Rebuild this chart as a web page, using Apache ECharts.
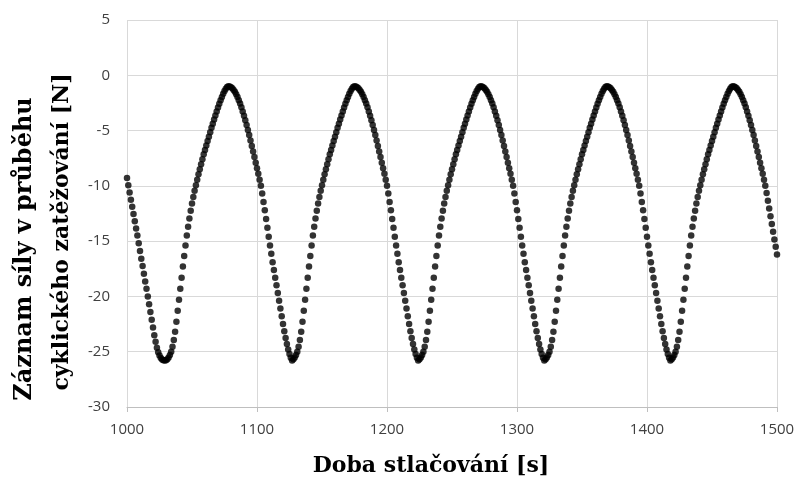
<!DOCTYPE html>
<html>
<head>
<meta charset="utf-8">
<script src="https://cdn.jsdelivr.net/npm/echarts@6/dist/echarts.min.js"></script>
<style>
html, body {margin: 0; padding: 0; background: #fff;}
#main {width: 801px; height: 481px;}
</style>
</head>
<body>
<div id="main"></div>
<script>
// one reading per second, starting at 1000 s
var timeStart = 1000;
var timeStep  = 1;

// force readings [N], segment by segment (falling / rising flanks)
var fall0 = [-9.3, -9.95, -10.6, -11.25, -11.9, -12.55, -13.2, -13.85, -14.5, -15.2, -15.9, -16.6, -17.25, -17.95, -18.65, -19.3, -20.0, -20.7, -21.4, -22.1, -22.8, -23.5, -24.1, -24.65, -25.05, -25.35, -25.57, -25.7, -25.78];
var rise1 = [-25.8, -25.77, -25.68, -25.52, -25.3, -25.0, -24.55, -23.95, -23.2, -22.3, -21.3, -20.3, -19.3, -18.3, -17.3, -16.35, -15.4, -14.5, -13.7, -12.95, -12.25, -11.6, -11.0, -10.45, -9.95, -9.45, -8.95, -8.5, -8.05, -7.6, -7.15, -6.75, -6.35, -5.95, -5.55, -5.15, -4.75, -4.38, -4.0, -3.63, -3.27, -2.92, -2.58, -2.26, -1.96, -1.68, -1.43, -1.22, -1.06];
var fall1 = [-1.0, -1.02, -1.08, -1.18, -1.32, -1.5, -1.72, -1.97, -2.25, -2.56, -2.9, -3.27, -3.66, -4.07, -4.5, -4.95, -5.4, -5.9, -6.4, -6.9, -7.4, -7.9, -8.4, -8.9, -9.45, -10.0, -10.7, -11.45, -12.2, -13.0, -13.8, -14.6, -15.4, -16.15, -16.9, -17.6, -18.3, -19.0, -19.7, -20.4, -21.1, -21.8, -22.5, -23.15, -23.75, -24.3, -24.8, -25.2, -25.55];
var rise2 = [-25.8, -25.68, -25.52, -25.3, -25.0, -24.55, -23.95, -23.2, -22.3, -21.3, -20.3, -19.3, -18.3, -17.3, -16.35, -15.4, -14.5, -13.7, -12.95, -12.25, -11.6, -11.0, -10.45, -9.95, -9.45, -8.95, -8.5, -8.05, -7.6, -7.15, -6.75, -6.35, -5.95, -5.55, -5.15, -4.75, -4.38, -4.0, -3.63, -3.27, -2.92, -2.58, -2.26, -1.96, -1.68, -1.43, -1.22, -1.06];
var fall2 = [-1.0, -1.02, -1.08, -1.18, -1.32, -1.5, -1.72, -1.97, -2.25, -2.56, -2.9, -3.27, -3.66, -4.07, -4.5, -4.95, -5.4, -5.9, -6.4, -6.9, -7.4, -7.9, -8.4, -8.9, -9.45, -10.0, -10.7, -11.45, -12.2, -13.0, -13.8, -14.6, -15.4, -16.15, -16.9, -17.6, -18.3, -19.0, -19.7, -20.4, -21.1, -21.8, -22.5, -23.15, -23.75, -24.3, -24.8, -25.2, -25.55];
var rise3 = [-25.8, -25.68, -25.52, -25.3, -25.0, -24.55, -23.95, -23.2, -22.3, -21.3, -20.3, -19.3, -18.3, -17.3, -16.35, -15.4, -14.5, -13.7, -12.95, -12.25, -11.6, -11.0, -10.45, -9.95, -9.45, -8.95, -8.5, -8.05, -7.6, -7.15, -6.75, -6.35, -5.95, -5.55, -5.15, -4.75, -4.38, -4.0, -3.63, -3.27, -2.92, -2.58, -2.26, -1.96, -1.68, -1.43, -1.22, -1.06];
var fall3 = [-1.0, -1.02, -1.08, -1.18, -1.32, -1.5, -1.72, -1.97, -2.25, -2.56, -2.9, -3.27, -3.66, -4.07, -4.5, -4.95, -5.4, -5.9, -6.4, -6.9, -7.4, -7.9, -8.4, -8.9, -9.45, -10.0, -10.7, -11.45, -12.2, -13.0, -13.8, -14.6, -15.4, -16.15, -16.9, -17.6, -18.3, -19.0, -19.7, -20.4, -21.1, -21.8, -22.5, -23.15, -23.75, -24.3, -24.8, -25.2, -25.55];
var rise4 = [-25.8, -25.68, -25.52, -25.3, -25.0, -24.55, -23.95, -23.2, -22.3, -21.3, -20.3, -19.3, -18.3, -17.3, -16.35, -15.4, -14.5, -13.7, -12.95, -12.25, -11.6, -11.0, -10.45, -9.95, -9.45, -8.95, -8.5, -8.05, -7.6, -7.15, -6.75, -6.35, -5.95, -5.55, -5.15, -4.75, -4.38, -4.0, -3.63, -3.27, -2.92, -2.58, -2.26, -1.96, -1.68, -1.43, -1.22, -1.06];
var fall4 = [-1.0, -1.02, -1.08, -1.18, -1.32, -1.5, -1.72, -1.97, -2.25, -2.56, -2.9, -3.27, -3.66, -4.07, -4.5, -4.95, -5.4, -5.9, -6.4, -6.9, -7.4, -7.9, -8.4, -8.9, -9.45, -10.0, -10.7, -11.45, -12.2, -13.0, -13.8, -14.6, -15.4, -16.15, -16.9, -17.6, -18.3, -19.0, -19.7, -20.4, -21.1, -21.8, -22.5, -23.15, -23.75, -24.3, -24.8, -25.2, -25.55];
var rise5 = [-25.8, -25.68, -25.52, -25.3, -25.0, -24.55, -23.95, -23.2, -22.3, -21.3, -20.3, -19.3, -18.3, -17.3, -16.35, -15.4, -14.5, -13.7, -12.95, -12.25, -11.6, -11.0, -10.45, -9.95, -9.45, -8.95, -8.5, -8.05, -7.6, -7.15, -6.75, -6.35, -5.95, -5.55, -5.15, -4.75, -4.38, -4.0, -3.63, -3.27, -2.92, -2.58, -2.26, -1.96, -1.68, -1.43, -1.22, -1.06];
var fall5 = [-1.0, -1.02, -1.08, -1.18, -1.32, -1.5, -1.72, -1.97, -2.25, -2.56, -2.9, -3.27, -3.66, -4.07, -4.5, -4.95, -5.4, -5.9, -6.4, -6.9, -7.4, -7.9, -8.4, -8.9, -9.45, -10.0, -10.65, -11.35, -12.05, -12.75, -13.45, -14.15, -14.85, -15.5, -16.2];

var xTitle  = 'Doba stlačování [s]';
var yTitle1 = 'Záznam síly v průběhu';
var yTitle2 = 'cyklického zatěžování [N]';

function buildPoints(segments)
{
    var points = [];
    var values = [].concat.apply([], segments);
    for(var i = 0; i < values.length; i++) points.push([timeStart + i * timeStep, values[i]]);
    return points;
}

function drawForceChart(id)
{
    var labelStyle = {
        color: '#404040',
        fontFamily: 'Open Sans',
        fontSize: 15,
        formatter: function(value) { return String(value); }
    };
    var gridLine = {
        show: true,
        lineStyle: {color: '#d9d9d9', width: 1}
    };
    var titleFont = 'bold 22px "DejaVu Serif"';

    var chart  = echarts.init(document.getElementById(id));
    var option = {
        animation: false,
        grid: {left: 127, right: 24, top: 20, bottom: 74},
        xAxis: {
            type: 'value',
            min: 1000,
            max: 1500,
            interval: 100,
            axisLine: {show: true, onZero: false, lineStyle: {color: '#bfbfbf'}},
            axisTick: {show: true, length: 5, lineStyle: {color: '#bfbfbf'}},
            axisLabel: Object.assign({margin: 15}, labelStyle),
            splitLine: gridLine
        },
        yAxis: {
            type: 'value',
            min: -30,
            max: 5,
            interval: 5,
            axisLine: {show: false},
            axisTick: {show: false},
            axisLabel: Object.assign({margin: 17}, labelStyle),
            splitLine: gridLine
        },
        graphic: [
            {
                type: 'text', x: 25, y: 249, rotation: Math.PI / 2,
                style: {text: yTitle1, font: 'bold 24px "DejaVu Serif"', fill: '#000', textAlign: 'center', textVerticalAlign: 'middle'}
            },
            {
                type: 'text', x: 62, y: 232, rotation: Math.PI / 2,
                style: {text: yTitle2, font: titleFont, fill: '#000', textAlign: 'center', textVerticalAlign: 'middle'}
            },
            {
                type: 'text', x: 431, y: 466,
                style: {text: xTitle, font: titleFont, fill: '#000', textAlign: 'center', textVerticalAlign: 'middle'}
            }
        ],
        series: [
            {
                type: 'scatter',
                symbol: 'circle',
                symbolSize: 6.5,
                itemStyle: {color: '#000'},
                data: buildPoints([fall0, rise1, fall1, rise2, fall2, rise3, fall3, rise4, fall4, rise5, fall5])
            }
        ]
    };
    chart.setOption(option);

    return chart;
}

drawForceChart('main');
</script>
</body>
</html>
